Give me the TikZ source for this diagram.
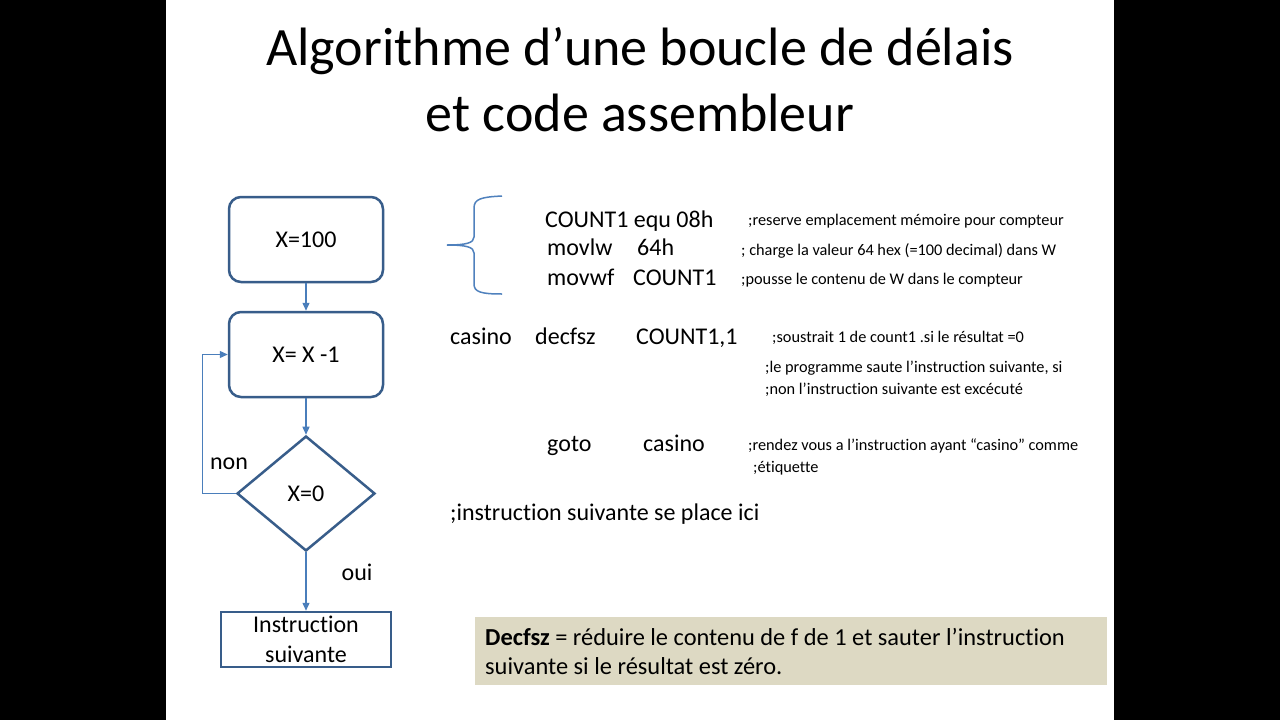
\documentclass[tikz,border=0pt]{standalone}
\usepackage{fontspec}
\setmainfont{Carlito}[Ligatures=NoCommon]
\usetikzlibrary{shapes.geometric,arrows.meta}
\definecolor{flow}{HTML}{385D8A}
\definecolor{arrowc}{HTML}{4A7EBB}
\definecolor{bracec}{HTML}{4F81BD}
\definecolor{boxfill}{HTML}{DDD9C3}
\newcommand\ftitle{\fontsize{54}{65}\selectfont}
\newcommand\fbig{\fontsize{24}{29}\selectfont}
\newcommand\fnote{\fontsize{24.4}{29}\selectfont}
\newcommand\fsmall{\fontsize{16.3}{19}\selectfont}
\tikzset{
  fbox/.style={draw=flow, line width=2.5, rounded corners=12, minimum width=154, minimum height=85, font=\fbig, inner sep=0},
  fdiam/.style={draw=flow, line width=2.5, shape=diamond, minimum width=138, minimum height=115, font=\fbig, inner sep=0},
  frect/.style={draw=flow, line width=2.5, minimum width=170, minimum height=55, font=\fbig, inner sep=0, align=center},
  arr/.style={draw=arrowc, line width=1.3, -{Triangle[length=8pt,width=7pt]}},
  big/.style={anchor=base west, inner sep=0, font=\fbig},
  note/.style={anchor=base west, inner sep=0, font=\fnote},
  small/.style={anchor=base west, inner sep=0, font=\fsmall},
  lbl/.style={inner sep=0, font=\fbig},
}
\begin{document}
\begin{tikzpicture}[x=1pt,y=-1pt]
\useasboundingbox (0,0) rectangle (1280,720);
\fill[black] (0,0) rectangle (166,720);
\fill[black] (1114,0) rectangle (1280,720);
\fill[white] (166,0) rectangle (1114,720);

% title
\node[anchor=base, inner sep=0, font=\ftitle] (t1) at (640,65) {Algorithme d’une boucle de délais};
\node[anchor=base, inner sep=0, font=\ftitle] (t2) at (640,131) {et code assembleur};

% flowchart
\node[fbox] (b1) at (306,239.5) {X=100};
\node[fbox] (b2) at (306,354.5) {X= X -1};
\node[fdiam] (d) at (306,493.5) {X=0};
\node[frect] (r) at (306,639.5) {\raisebox{-2pt}{Instruction}\\[1pt]\raisebox{-2pt}{suivante}};
\draw[arr] (b1) -- (b2);
\draw[arr] (b2) -- (d);
\draw[arr] (d) -- (r);
\draw[arr] (d.west) -- ++(-33,0) |- (b2.west);
\node[lbl] (non) at (229,464) {non};
\node[lbl] (oui) at (357,572) {oui};

% brace
\draw[bracec, line width=1.5] (502,196) .. controls (481,197) and (474,199) .. (474,208) -- (474,237) .. controls (474,243) and (466,245) .. (447,245) .. controls (466,245) and (474,247) .. (474,253) -- (474,284) .. controls (474,292) and (481,294) .. (502,294);

% code
\node[big] (c1) at (545,227) {COUNT1 equ 08h};
\node[small] (k1) at (748,225) {;reserve emplacement mémoire pour compteur};
\node[big] (c2a) at (547,255) {movlw};
\node[big] (c2b) at (637,255) {64h};
\node[small] (k2) at (741,255) {; charge la valeur 64 hex (=100 decimal) dans W};
\node[big] (c3a) at (547,285) {movwf};
\node[big] (c3b) at (633,285) {COUNT1};
\node[small] (k3) at (741,284) {;pousse le contenu de W dans le compteur};

\node[big] (c4a) at (450,344) {casino};
\node[big] (c4b) at (535,344) {decfsz};
\node[big] (c4c) at (636,344) {COUNT1,1};
\node[small] (k4) at (772,342) {;soustrait 1 de count1 .si le résultat =0};
\node[small] (k5) at (765,372) {;le programme saute l’instruction suivante, si};
\node[small] (k6) at (765,394) {;non l’instruction suivante est excécuté};

\node[big] (c5a) at (547,451) {goto};
\node[big] (c5b) at (643,451) {casino};
\node[small] (k7) at (748,450) {;rendez vous a l’instruction ayant “casino” comme};
\node[small] (k8) at (753,472) {;étiquette};

\node[big] (c6) at (450,520) {;instruction suivante se place ici};

% note box
\fill[boxfill] (475,617) rectangle (1107,685);
\node[note] (n1) at (485,645) {\textbf{Decfsz} = réduire le contenu de f de 1 et sauter l’instruction};
\node[note] (n2) at (485,674) {suivante si le résultat est zéro.};
\end{tikzpicture}
\end{document}
